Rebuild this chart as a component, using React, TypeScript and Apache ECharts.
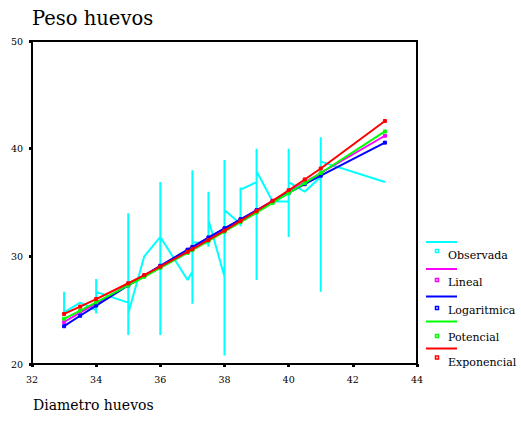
import React, { useEffect, useRef } from "react";
import * as echarts from "echarts";

// Observed points, in plotting order (sorted by diameter)
const obsX = [
  33, 33, 33.5, 34, 34, 34, 34, 35, 35, 35, 35, 35.5, 36, 36, 36, 36, 36, 36,
  36.85, 37, 37, 37, 37, 37.5, 37.5, 37.5, 37.5, 38, 38, 38, 38, 38.5, 38.5,
  38.5, 38.5, 39, 39, 39, 39, 39.5, 40, 40, 40, 40, 40.5, 41, 41, 41, 41, 43,
];
const obsY = [
  26.7, 24.8, 25.7, 25.0, 27.9, 24.7, 26.7, 25.7, 34.0, 22.7, 24.7, 30.0, 31.8,
  36.9, 22.7, 35.0, 25.7, 31.8, 27.8, 28.6, 38.0, 25.6, 31.3, 31.2, 36.0, 30.9,
  33.4, 28.1, 38.95, 20.8, 34.3, 33.0, 36.4, 32.8, 36.2, 36.9, 40.0, 27.8, 37.9,
  35.1, 35.1, 40.0, 31.8, 36.9, 36.0, 37.4, 41.05, 26.7, 38.8, 36.9,
];

// Fitted curves, evaluated at each observed diameter
const fitX = [33, 33.5, 34, 35, 35.5, 36, 36.85, 37, 37.5, 38, 38.5, 39, 39.5, 40, 40.5, 41, 43];
const lineal = [23.9, 24.77, 25.63, 27.36, 28.23, 29.09, 30.56, 30.82, 31.69, 32.55, 33.42, 34.28, 35.15, 36.01, 36.88, 37.74, 41.2];
const logaritmica = [23.51, 24.48, 25.43, 27.3, 28.21, 29.12, 30.62, 30.88, 31.75, 32.6, 33.44, 34.27, 35.09, 35.9, 36.7, 37.49, 40.56];
const potencial = [24.2, 24.96, 25.73, 27.3, 28.1, 28.92, 30.33, 30.58, 31.44, 32.3, 33.18, 34.06, 34.96, 35.87, 36.8, 37.74, 41.6];
const exponencial = [24.65, 25.33, 26.03, 27.5, 28.26, 29.04, 30.42, 30.67, 31.52, 32.39, 33.29, 34.21, 35.16, 36.14, 37.14, 38.16, 42.57];

const legendNames = ["Observada", "Lineal", "Logaritmica", "Potencial", "Exponencial"];
const colors = ["#00FFFF", "#FF00FF", "#0000FF", "#00FF00", "#FF0000"];

const FONT = "DejaVu Serif";

const zip = (xs: number[], ys: number[]) => xs.map((x, i) => [x, ys[i]]);

export default function App() {
  const ref = useRef<HTMLDivElement>(null);

  useEffect(() => {
    if (!ref.current) return;
    const chart = echarts.init(ref.current, null, { renderer: "svg" });

    const fits = [lineal, logaritmica, potencial, exponencial];

    // Legend block on the right: a line sample, a small square and the name
    const legendLineY = [242, 269, 296.5, 321.5, 348.5];
    const legendMarkY = [251, 280, 308, 336, 357.5];
    const legendTextY = [255, 282, 310, 337, 362];
    const legendGraphics: any[] = [];
    legendNames.forEach((name, i) => {
      legendGraphics.push({
        type: "line",
        shape: { x1: 426, y1: legendLineY[i], x2: 457, y2: legendLineY[i] },
        style: { stroke: colors[i], lineWidth: 2 },
      });
      legendGraphics.push({
        type: "rect",
        shape: { x: 435.5, y: legendMarkY[i] - 1.5, width: 3, height: 3 },
        style: { stroke: colors[i], lineWidth: 1.5, fill: "#ffffff" },
      });
      legendGraphics.push({
        type: "text",
        x: 448,
        y: legendTextY[i],
        style: {
          text: name,
          fontFamily: FONT,
          fontSize: 11,
          fill: "#000",
          verticalAlign: "middle",
          align: "left",
        },
      });
    });

    chart.setOption({
      animation: false,
      backgroundColor: "#ffffff",
      graphic: [
        {
          type: "text",
          x: 32,
          y: 18,
          style: {
            text: "Peso huevos",
            fontFamily: FONT,
            fontSize: 19.5,
            fill: "#000",
            verticalAlign: "middle",
          },
        },
        {
          type: "text",
          x: 33,
          y: 405,
          style: {
            text: "Diametro huevos",
            fontFamily: FONT,
            fontSize: 14,
            fill: "#000",
            verticalAlign: "middle",
          },
        },
        ...legendGraphics,
      ],
      grid: {
        left: 32,
        right: 104,
        top: 41,
        bottom: 59,
        show: true,
        borderColor: "#000",
        borderWidth: 2,
        backgroundColor: "transparent",
        outerBoundsMode: "none",
      },
      xAxis: {
        type: "value",
        min: 32,
        max: 44,
        interval: 2,
        axisLine: { lineStyle: { color: "#000", width: 1.5 } },
        axisTick: { show: true, length: 3, lineStyle: { color: "#000", width: 3 } },
        splitLine: { show: false },
        axisLabel: { fontFamily: FONT, fontSize: 9.5, color: "#000", margin: 10 },
      },
      yAxis: {
        type: "value",
        min: 20,
        max: 50,
        interval: 10,
        axisLine: { show: true, lineStyle: { color: "#000", width: 1.5 } },
        axisTick: { show: true, length: 3, lineStyle: { color: "#000", width: 3 } },
        splitLine: { show: false },
        axisLabel: { fontFamily: FONT, fontSize: 9.5, color: "#000", margin: 9 },
      },
      series: [
        {
          name: "Observada",
          type: "line",
          data: zip(obsX, obsY),
          showSymbol: false,
          lineStyle: { color: colors[0], width: 2 },
          z: 1,
        },
        ...fits.map((ys, i) => ({
          name: legendNames[i + 1],
          type: "line",
          data: zip(fitX, ys),
          symbol: "rect",
          symbolSize: 3,
          showSymbol: true,
          itemStyle: { color: colors[i + 1], borderColor: colors[i + 1], borderWidth: 1 },
          lineStyle: { color: colors[i + 1], width: 2 },
          z: 2 + i,
        })),
      ],
    });

    return () => chart.dispose();
  }, []);

  return (
    <div
      ref={ref}
      style={{ position: "fixed", left: 0, top: 0, width: 521, height: 423, background: "#fff" }}
    />
  );
}
